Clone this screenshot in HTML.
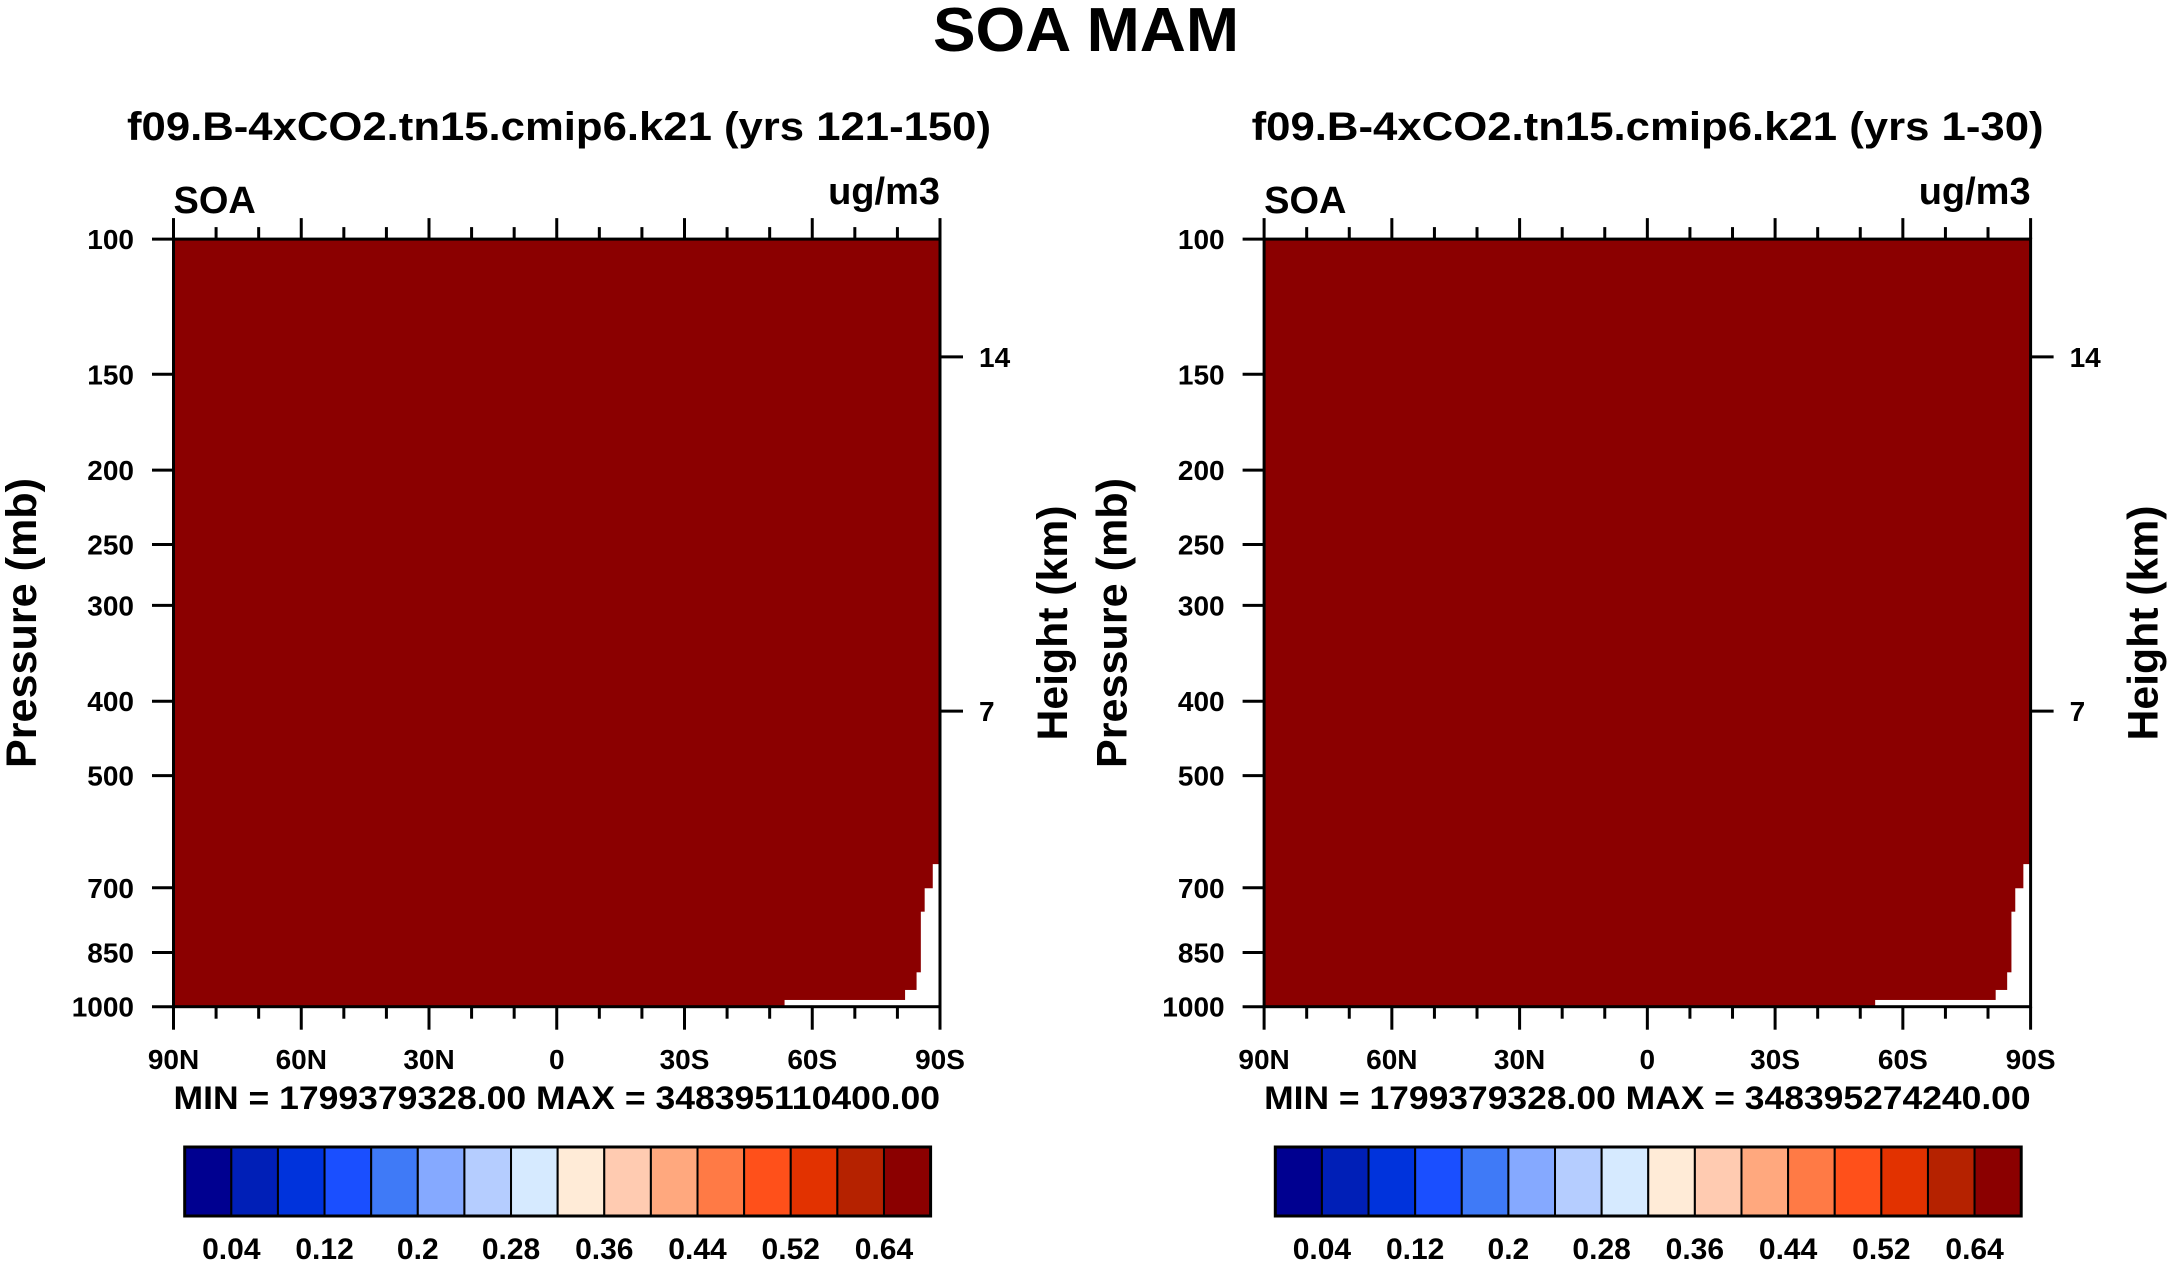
<!DOCTYPE html>
<html><head><meta charset="utf-8"><style>
html,body{margin:0;padding:0;background:#fff;}
svg{display:block;font-family:"Liberation Sans",Arial,sans-serif;font-weight:bold;}
</style></head><body>
<svg id="chart" width="2170" height="1266" viewBox="0 0 2170 1266" xmlns="http://www.w3.org/2000/svg">
<text x="1086" y="51" font-size="62" text-anchor="middle" textLength="306" lengthAdjust="spacingAndGlyphs">SOA MAM</text>
</svg>
<script>
const panelTitles = ["f09.B-4xCO2.tn15.cmip6.k21 (yrs 121-150)", "f09.B-4xCO2.tn15.cmip6.k21 (yrs 1-30)"];
const panelTitleWidths = [864, 792];
const minMaxText = ["MIN = 1799379328.00  MAX = 348395110400.00", "MIN = 1799379328.00  MAX = 348395274240.00"];
const pressureTicks = [100,150,200,250,300,400,500,700,850,1000];
const heightTicks = [14,7];
const heightTickPressure = [142.4, 412];
const latTicks = [90,60,30,0,-30,-60,-90];
const latLabels = ["90N","60N","30N","0","30S","60S","90S"];
// missing-data (white) region: pressure top of each step, lat where data ends
const missP = [652,701,752,902,951,980];
const missLat = [-88.3,-86.4,-85.5,-84.5,-81.8,-53.5];
const cbColors = ["#000090","#001FB7","#0033DC","#1A4FFF","#3F7AF7","#85A9FF","#B5CDFF","#D6EAFF","#FFEBD7","#FFCBB1","#FFA87E","#FF7A45","#FF501A","#E23200","#B52200","#8B0000"];
const cbLabels = ["0.04","0.12","0.2","0.28","0.36","0.44","0.52","0.64"];

const NS="http://www.w3.org/2000/svg";
const svg=document.getElementById('chart');
function mk(tag,attrs,parent){const e=document.createElementNS(NS,tag);for(const k in attrs)e.setAttribute(k,attrs[k]);(parent||svg).appendChild(e);return e;}

const L=173.5,R=940,T=239.1,B=1006.7;
const xs=lat=>L+(90-lat)/180*(R-L);
const ys=p=>T+Math.log10(p/100)*(B-T);

[0,1].forEach(i=>{
  const g=mk('g',{transform:`translate(${i*1090.6},0)`});
  
  
  let t=mk('text',{x:559 + (i===1?-2:0),y:140,'font-size':40,'text-anchor':'middle',textLength:panelTitleWidths[i],lengthAdjust:'spacingAndGlyphs'},g);t.textContent=panelTitles[i];
  
  let r=mk('rect',{x:L,y:T,width:R-L,height:B-T,fill:'#8B0000'},g);
  
  for(let k=0;k<missP.length;k++){
    const y0=ys(missP[k]); const y1=k+1<missP.length?ys(missP[k+1]):B;
    const x0=xs(missLat[k]);
    const w=mk('rect',{x:x0,y:y0,width:R-x0,height:y1-y0+0.5,fill:'#fff'},g);
    
  }
  const fr=mk('rect',{x:L,y:T,width:R-L,height:B-T,fill:'none',stroke:'#000','stroke-width':3},g);
  
  pressureTicks.forEach(p=>{
    const y=ys(p);
    const l=mk('line',{x1:152,x2:L,y1:y,y2:y,stroke:'#000','stroke-width':3},g);
    
    const tx=mk('text',{x:134,y:y+10,'font-size':28,'text-anchor':'end'},g);tx.textContent=p;
    
  });
  heightTicks.forEach((h,k)=>{
    const y=ys(heightTickPressure[k]);
    const l=mk('line',{x1:R,x2:963,y1:y,y2:y,stroke:'#000','stroke-width':3},g);
    
    const tx=mk('text',{x:979,y:y+10,'font-size':28},g);tx.textContent=h;
    
  });
  for(let lat=90;lat>=-90;lat-=10){
    const x=xs(lat);const major=lat%30===0;
    const a=mk('line',{x1:x,x2:x,y1:B,y2:B+(major?23:12),stroke:'#000','stroke-width':3},g);
    
    const b=mk('line',{x1:x,x2:x,y1:T,y2:T-(major?21:12),stroke:'#000','stroke-width':3},g);
    
  }
  latTicks.forEach((lat,k)=>{
    const tx=mk('text',{x:xs(lat),y:1069,'font-size':28,'text-anchor':'middle'},g);tx.textContent=latLabels[k];
    
  });
  t=mk('text',{x:L,y:213,'font-size':38},g);t.textContent='SOA';
  
  t=mk('text',{x:R,y:204,'font-size':38,'text-anchor':'end'},g);t.textContent='ug/m3';
  
  t=mk('text',{x:L,y:1109,'font-size':32,textLength:R-L,lengthAdjust:'spacingAndGlyphs'},g);t.textContent=minMaxText[i];
  
  t=mk('text',{x:0,y:0,'font-size':43,'text-anchor':'middle',textLength:290,lengthAdjust:'spacingAndGlyphs',transform:'translate(36,623) rotate(-90)'},g);t.textContent='Pressure (mb)';
  
  t=mk('text',{x:0,y:0,'font-size':43,'text-anchor':'middle',textLength:235,lengthAdjust:'spacingAndGlyphs',transform:'translate(1067,623) rotate(-90)'},g);t.textContent='Height (km)';
  
  // colorbar
  const cL=184.7,cR=930.6,cT=1147,cB=1216,bw=(cR-cL)/cbColors.length;
  cbColors.forEach((c,k)=>{
    const b=mk('rect',{x:cL+k*bw,y:cT,width:bw,height:cB-cT,fill:c,stroke:'#000','stroke-width':2},g);
    
  });
  const cf=mk('rect',{x:cL,y:cT,width:cR-cL,height:cB-cT,fill:'none',stroke:'#000','stroke-width':3},g);
  
  cbLabels.forEach((s,k)=>{
    const tx=mk('text',{x:cL+(2*k+1)*bw,y:1259,'font-size':30,'text-anchor':'middle'},g);tx.textContent=s;
    
  });
});
</script>
</body></html>
